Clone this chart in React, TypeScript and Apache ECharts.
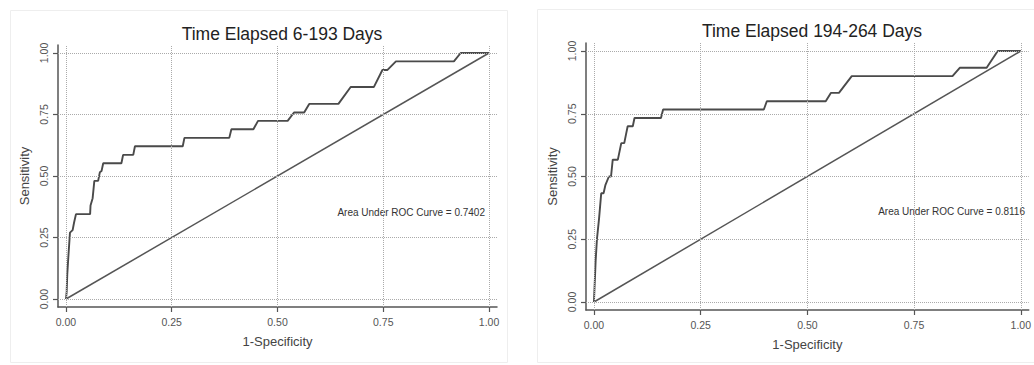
import React, { useEffect, useRef } from "react";
import * as echarts from "echarts";

const TITLES = ["Time Elapsed 6-193 Days", "Time Elapsed 194-264 Days"];
const AUC_LABELS = ["Area Under ROC Curve = 0.7402", "Area Under ROC Curve = 0.8116"];
const TICKS = [0, 0.25, 0.5, 0.75, 1];
const X_NAME = "1-Specificity";
const Y_NAME = "Sensitivity";

const LEFT_FPR = [0, 0.0016, 0.003, 0.0055, 0.0094, 0.0157, 0.019, 0.0236, 0.057, 0.058, 0.063, 0.067, 0.076, 0.08, 0.084, 0.088, 0.131, 0.135, 0.159, 0.163, 0.276, 0.28, 0.386, 0.391, 0.443, 0.454, 0.524, 0.539, 0.563, 0.575, 0.644, 0.673, 0.728, 0.748, 0.76, 0.78, 0.917, 0.933, 1];
const LEFT_TPR = [0, 0.03, 0.1, 0.17, 0.27, 0.28, 0.31, 0.345, 0.345, 0.38, 0.41, 0.48, 0.48, 0.515, 0.52, 0.552, 0.552, 0.586, 0.586, 0.621, 0.621, 0.655, 0.655, 0.69, 0.69, 0.724, 0.724, 0.758, 0.758, 0.793, 0.793, 0.862, 0.862, 0.931, 0.931, 0.966, 0.966, 1, 1];

const RIGHT_FPR = [0, 0.004, 0.007, 0.012, 0.017, 0.0225, 0.027, 0.035, 0.04, 0.044, 0.056, 0.06, 0.064, 0.071, 0.075, 0.079, 0.091, 0.095, 0.157, 0.162, 0.398, 0.405, 0.543, 0.555, 0.574, 0.604, 0.84, 0.857, 0.92, 0.946, 1];
const RIGHT_TPR = [0, 0.166, 0.25, 0.333, 0.433, 0.433, 0.467, 0.5, 0.5, 0.567, 0.567, 0.6, 0.633, 0.633, 0.667, 0.7, 0.7, 0.733, 0.733, 0.767, 0.767, 0.8, 0.8, 0.833, 0.833, 0.9, 0.9, 0.933, 0.933, 1, 1];

const DIAG = [0, 1];

const FONT = "'Liberation Sans', Arial, sans-serif";

export default function App() {
  const ref = useRef<HTMLDivElement>(null);

  useEffect(() => {
    document.body.style.margin = "0";
    if (!ref.current) return;
    const chart = echarts.init(ref.current, undefined, { renderer: "svg" });

    const panels = [
      { left: 58, top: 45, width: 439, height: 262, xPad: 8 / 423.3, yPad: 8 / 246.7, titleX: 277, titleY: 20, aucRight: 485, aucY: 207 },
      { left: 586, top: 43, width: 445.5, height: 267, xPad: 8 / 429.3, yPad: 8 / 251, titleX: 807, titleY: 17, aucRight: 1025, aucY: 206 },
    ];

    const curves = [
      LEFT_FPR.map((x, i) => [x, LEFT_TPR[i]]),
      RIGHT_FPR.map((x, i) => [x, RIGHT_TPR[i]]),
    ];

    const gridLineData = [
      ...TICKS.map((t) => ({ xAxis: t })),
      ...TICKS.map((t) => ({ yAxis: t })),
    ];

    const option: any = {
      animation: false,
      backgroundColor: "#ffffff",
      title: panels.map((p, i) => ({
        text: TITLES[i],
        left: p.titleX,
        top: p.titleY,
        textAlign: "center",
        textStyle: { fontFamily: FONT, fontSize: 17.5, fontWeight: "normal", color: "#222" },
      })),
      grid: panels.map((p) => ({ left: p.left, top: p.top, width: p.width, height: p.height, containLabel: false })),
      xAxis: panels.map((p, i) => ({
        type: "value",
        gridIndex: i,
        min: -p.xPad,
        max: 1 + p.xPad,
        name: X_NAME,
        nameLocation: "middle",
        nameGap: 28,
        nameTextStyle: { fontFamily: FONT, fontSize: 13, color: "#444" },
        axisLine: { show: true, onZero: false, lineStyle: { color: "#555", width: 1.5 } },
        axisTick: { show: true, length: 5, customValues: TICKS, lineStyle: { color: "#555", width: 1.2 } },
        axisLabel: {
          customValues: TICKS,
          margin: 9,
          fontFamily: FONT,
          fontSize: 10.5,
          color: "#555",
          formatter: (v: number) => v.toFixed(2),
        },
        splitLine: { show: false },
      })),
      yAxis: panels.map((p, i) => ({
        type: "value",
        gridIndex: i,
        min: -p.yPad,
        max: 1 + p.yPad,
        name: Y_NAME,
        nameLocation: "middle",
        nameGap: 27,
        nameTextStyle: { fontFamily: FONT, fontSize: 13, color: "#444" },
        axisLine: { show: true, onZero: false, lineStyle: { color: "#555", width: 1.5 } },
        axisTick: { show: true, length: 5, customValues: TICKS, lineStyle: { color: "#555", width: 1.2 } },
        axisLabel: {
          customValues: TICKS,
          margin: 9,
          rotate: 90,
          fontFamily: FONT,
          fontSize: 10.5,
          color: "#555",
          formatter: (v: number) => v.toFixed(2),
        },
        splitLine: { show: false },
      })),
      series: [0, 1].flatMap((i) => [
        {
          type: "line",
          xAxisIndex: i,
          yAxisIndex: i,
          data: DIAG.map((d) => [d, d]),
          symbol: "none",
          silent: true,
          lineStyle: { color: "#555", width: 1.5 },
          markLine: {
            silent: true,
            symbol: "none",
            label: { show: false },
            lineStyle: { color: "#aaaaaa", type: "dotted", width: 1 },
            data: gridLineData,
          },
          z: 2,
        },
        {
          type: "line",
          xAxisIndex: i,
          yAxisIndex: i,
          data: curves[i],
          symbol: "none",
          silent: true,
          lineStyle: { color: "#4a4a4a", width: 1.9 },
          z: 3,
        },
      ]),
      graphic: [
        { type: "rect", shape: { x: 10.5, y: 10.5, width: 497, height: 352 }, style: { fill: "none", stroke: "#eeeeee", lineWidth: 1 }, z: -1 },
        { type: "rect", shape: { x: 537.5, y: 9.5, width: 500, height: 353 }, style: { fill: "none", stroke: "#eeeeee", lineWidth: 1 }, z: -1 },
        ...panels.map((p, i) => ({
          type: "text",
          x: p.aucRight,
          y: p.aucY,
          style: {
            text: AUC_LABELS[i],
            align: "right",
            verticalAlign: "top",
            font: `10px ${FONT}`,
            fill: "#333",
          },
        })),
      ],
    };

    chart.setOption(option);
    return () => chart.dispose();
  }, []);

  return <div ref={ref} style={{ position: "absolute", left: 0, top: 0, width: 1034, height: 365 }} />;
}
